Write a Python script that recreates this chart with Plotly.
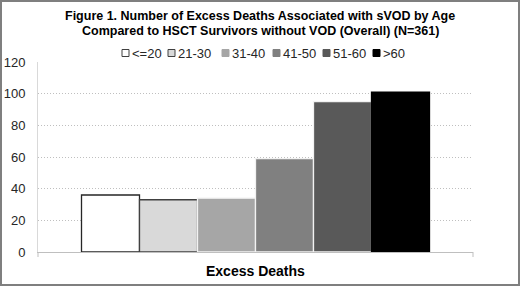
import plotly.graph_objects as go

categories = ["<=20", "21-30", "31-40", "41-50", "51-60", ">60"]
values = [36, 33, 34, 59, 95, 101]
group_label = "Excess Deaths"
y_ticks = [0, 20, 40, 60, 80, 100, 120]

fills = ["#ffffff", "#d9d9d9", "#a6a6a6", "#808080", "#595959", "#000000"]
edges = ["#262626", "#404040", "#f2f2f2", "#f2f2f2", "#f2f2f2", "#000000"]

W, H = 520, 286
L, R, T, B = 38, 47, 62, 34
PW, PH = W - L - R, H - T - B

def px_x(px):
    return (px - L) / PW

def px_y(py):
    return (H - B - py) / PH

fig = go.Figure()
for cat, val, fc, ec in zip(categories, values, fills, edges):
    fig.add_trace(go.Bar(
        x=[group_label], y=[val], name=cat,
        marker=dict(color=fc, line=dict(color=ec, width=1.3)),
        showlegend=False,
    ))

shapes = []
annotations = []
# custom legend
leg_x = [122, 168, 222, 273, 323, 373]
leg_yc = 53
for i, cat in enumerate(categories):
    x0 = leg_x[i]
    shapes.append(dict(type="rect", xref="paper", yref="paper",
                       x0=px_x(x0), x1=px_x(x0 + 7),
                       y0=px_y(leg_yc + 3.5), y1=px_y(leg_yc - 3.5),
                       fillcolor=fills[i],
                       line=dict(color="#404040" if i < 2 else fills[i], width=1)))
    annotations.append(dict(text=cat, xref="paper", yref="paper",
                            x=px_x(x0 + 8), y=px_y(leg_yc), xanchor="left", yanchor="middle",
                            showarrow=False, font=dict(size=13, color="#262626")))

# boundary ticks
for xp in [L, W - R]:
    shapes.append(dict(type="line", xref="paper", yref="paper",
                       x0=px_x(xp), x1=px_x(xp), y0=px_y(H - B), y1=px_y(H - B + 5),
                       line=dict(color="#bfbfbf", width=1)))

# outer border
shapes.append(dict(type="rect", xref="paper", yref="paper",
                   x0=px_x(1), x1=px_x(W - 1), y0=px_y(H - 1), y1=px_y(1),
                   line=dict(color="#7f7f7f", width=2), fillcolor="rgba(0,0,0,0)", layer="below"))

annotations.append(dict(
    text="<b>Figure 1. Number of Excess Deaths Associated with sVOD by Age</b>",
    xref="paper", yref="paper", x=px_x(260), y=px_y(16), xanchor="center", yanchor="middle",
    showarrow=False, font=dict(size=12.5, color="#000000")))
annotations.append(dict(
    text="<b>Compared to HSCT Survivors without VOD (Overall) (N=361)</b>",
    xref="paper", yref="paper", x=px_x(260), y=px_y(31), xanchor="center", yanchor="middle",
    showarrow=False, font=dict(size=12.5, color="#000000")))
annotations.append(dict(
    text="<b>" + group_label + "</b>",
    xref="paper", yref="paper", x=px_x(256), y=px_y(271), xanchor="center", yanchor="middle",
    showarrow=False, font=dict(size=14, color="#000000")))

fig.update_layout(
    width=W, height=H,
    margin=dict(l=L, r=R, t=T, b=B),
    paper_bgcolor="white", plot_bgcolor="white",
    barmode="group", bargap=0.2, bargroupgap=0,
    font=dict(family="Liberation Sans, Arial, sans-serif", color="#262626"),
    shapes=shapes, annotations=annotations,
    xaxis=dict(showticklabels=False, showline=True, linecolor="#bfbfbf", linewidth=1,
               showgrid=False, ticks="", fixedrange=True, automargin=False),
    yaxis=dict(range=[0, 120], tickvals=y_ticks, showline=True, linecolor="#d9d9d9", linewidth=1,
               showgrid=True, gridcolor="#bfbfbf", griddash="1px,2px", gridwidth=1,
               zeroline=False, tickfont=dict(size=13, color="#262626"), ticks="",
               ticklabelstandoff=9, fixedrange=True, automargin=False),
)

fig.write_html("out.html", config={"displayModeBar": False},
               post_script="document.body.style.margin='0';")
